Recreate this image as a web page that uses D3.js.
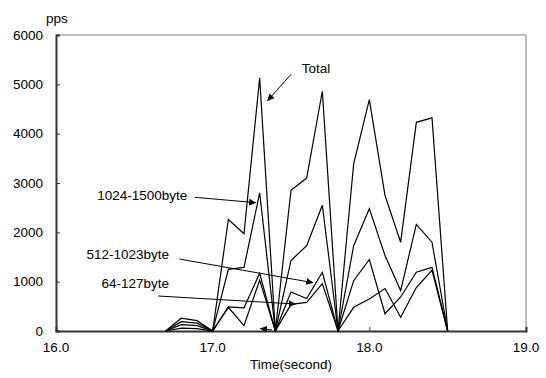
<!DOCTYPE html>
<html>
<head>
<meta charset="utf-8">
<script src="https://cdn.jsdelivr.net/npm/d3@7"></script>
<style>
  body { margin: 0; background: #fff; }
  text { font-family: Arial, "Liberation Sans", sans-serif; fill: #000; }
</style>
</head>
<body>
<div id="chart"></div>
<script>
// time stamps (seconds) and packet rates per size class
const times   = [16.7, 16.8, 16.9, 17.0, 17.1, 17.2, 17.3, 17.4, 17.5, 17.6, 17.7, 17.8, 17.9, 18.0, 18.1, 18.2, 18.3, 18.4, 18.5];
const total   = [0, 260, 210, 0, 2260, 1970, 5130, 0, 2850, 3100, 4860, 0, 3390, 4690, 2750, 1800, 4230, 4320, 0];
const b1024   = [0, 190, 160, 0, 1250, 1290, 2800, 0, 1430, 1730, 2550, 0, 1730, 2480, 1530, 820, 2160, 1800, 0];
const b512    = [0, 130, 110, 0, 490, 470, 1170, 0, 790, 660, 1190, 0, 1020, 1450, 350, 690, 1190, 1290, 0];
const b64     = [0, 60, 50, 0, 480, 110, 1030, 0, 540, 580, 960, 0, 480, 650, 860, 280, 880, 1230, 0];
const xTicks  = [16, 17, 18, 19];
const yTicks  = [0, 1000, 2000, 3000, 4000, 5000, 6000];

// annotations: label text, label anchor point, arrow start, arrow tip (data units)
const notes = [
  {label: "Total",         at: [17.568, 5325], anchor: "start", from: [17.500, 5203], to: [17.349, 4662]},
  {label: "1024-1500byte", at: [16.838, 2743], anchor: "end",   from: [16.887, 2710], to: [17.277, 2601]},
  {label: "512-1023byte",  at: [16.721, 1561], anchor: "end",   from: [16.787, 1459], to: [17.642, 979]},
  {label: "64-127byte",    at: [16.721, 973],  anchor: "end",   from: [16.653, 709],  to: [17.530, 547]},
  {label: "",              at: [17.38, 20],    anchor: "end",   from: [17.379, 20],   to: [17.302, 51]}
];

const width = 546, height = 378;
const margin = {top: 35, right: 20, bottom: 47, left: 56};

const svg = d3.select("#chart").append("svg")
    .attr("width", width)
    .attr("height", height);

const x = d3.scaleLinear().domain([16, 19]).range([margin.left, width - margin.right]);
const y = d3.scaleLinear().domain([0, 6000]).range([height - margin.bottom, margin.top]);

svg.append("defs").append("marker")
    .attr("id", "head")
    .attr("viewBox", "0 0 10 10")
    .attr("refX", 10).attr("refY", 5)
    .attr("markerWidth", 7).attr("markerHeight", 7)
    .attr("markerUnits", "userSpaceOnUse")
    .attr("orient", "auto")
  .append("path")
    .attr("d", "M0,0 L10,5 L0,10 z")
    .attr("fill", "#000");

// frame (top and right)
svg.append("path")
    .attr("d", `M${x(16)},${y(6000)} H${x(19)} V${y(0)}`)
    .attr("fill", "none")
    .attr("stroke", "#808080")
    .attr("stroke-width", 1);

// y axis
const yAxis = svg.append("g")
    .attr("transform", `translate(${x(16)},0)`)
    .call(d3.axisRight(y).tickValues(yTicks).tickSize(4).tickFormat(""));
yAxis.select(".domain").attr("stroke", "#333").attr("stroke-width", 2);
yAxis.selectAll(".tick line").attr("stroke", "#333");
svg.selectAll(".ylab")
    .data(yTicks)
    .enter().append("text")
    .attr("class", "ylab")
    .attr("x", x(16) - 13)
    .attr("y", d => y(d))
    .attr("dy", "0.35em")
    .attr("text-anchor", "end")
    .attr("font-size", "13.5px")
    .text(d => d);

// x axis
const xAxis = svg.append("g")
    .attr("transform", `translate(0,${y(0)})`)
    .call(d3.axisTop(x).tickValues(xTicks).tickSize(4).tickFormat(""));
xAxis.select(".domain").attr("stroke", "#333").attr("stroke-width", 2);
xAxis.selectAll(".tick line").attr("stroke", "#333");
svg.selectAll(".xlab")
    .data(xTicks)
    .enter().append("text")
    .attr("class", "xlab")
    .attr("x", d => x(d))
    .attr("y", y(0) + 16)
    .attr("dy", "0.35em")
    .attr("text-anchor", "middle")
    .attr("font-size", "13.5px")
    .text(d => d3.format(".1f")(d));

svg.append("text")
    .attr("x", 291)
    .attr("y", 364)
    .attr("dy", "0.35em")
    .attr("text-anchor", "middle")
    .attr("font-size", "13.5px")
    .text("Time(second)");

svg.append("text")
    .attr("x", 46)
    .attr("y", 18)
    .attr("dy", "0.35em")
    .attr("font-size", "13.5px")
    .text("pps");

// series
const line = d3.line()
    .x((d, i) => x(times[i]))
    .y(d => y(d));

svg.selectAll(".series")
    .data([b64, b512, b1024, total])
    .enter().append("path")
    .attr("class", "series")
    .attr("d", line)
    .attr("fill", "none")
    .attr("stroke", "#000")
    .attr("stroke-width", 1.2)
    .attr("stroke-linejoin", "miter");

// annotations
svg.selectAll(".note-line")
    .data(notes)
    .enter().append("line")
    .attr("class", "note-line")
    .attr("x1", d => x(d.from[0])).attr("y1", d => y(d.from[1]))
    .attr("x2", d => x(d.to[0])).attr("y2", d => y(d.to[1]))
    .attr("stroke", "#000")
    .attr("stroke-width", 1)
    .attr("marker-end", "url(#head)");

svg.selectAll(".note")
    .data(notes.filter(d => d.label))
    .enter().append("text")
    .attr("class", "note")
    .attr("x", d => x(d.at[0]))
    .attr("y", d => y(d.at[1]))
    .attr("dy", "0.35em")
    .attr("text-anchor", d => d.anchor)
    .attr("font-size", "13.5px")
    .text(d => d.label);
</script>
</body>
</html>
